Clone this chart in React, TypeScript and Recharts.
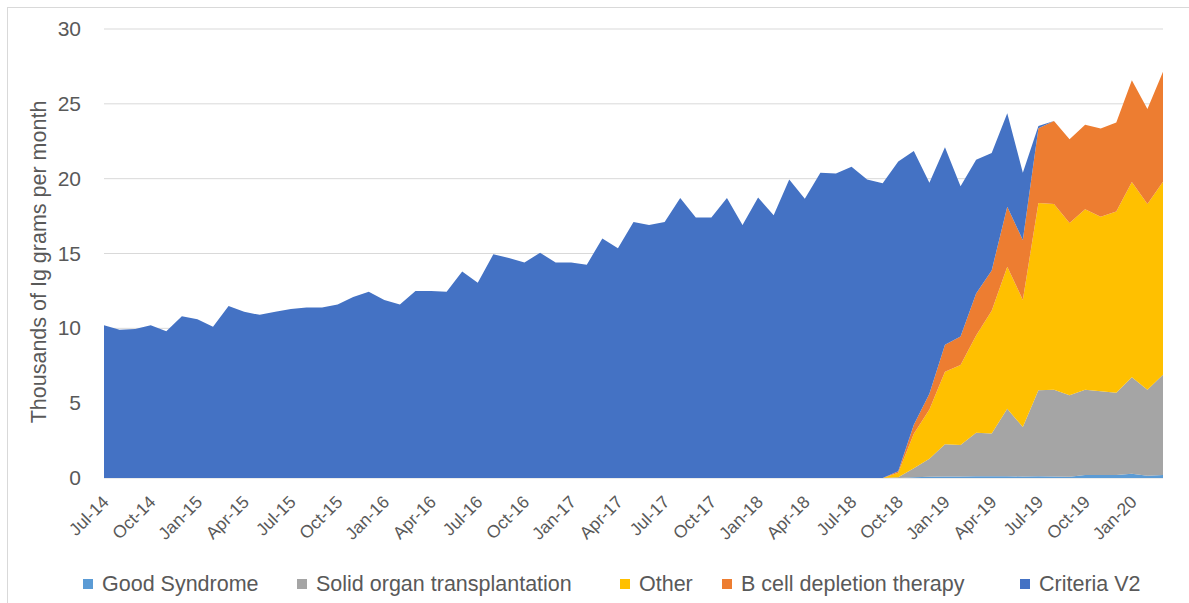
import { AreaChart, Area, XAxis, YAxis, CartesianGrid } from "recharts";

const months = [
  "Jul-14", "Aug-14", "Sep-14", "Oct-14", "Nov-14", "Dec-14",
  "Jan-15", "Feb-15", "Mar-15", "Apr-15", "May-15", "Jun-15", "Jul-15", "Aug-15", "Sep-15", "Oct-15", "Nov-15", "Dec-15",
  "Jan-16", "Feb-16", "Mar-16", "Apr-16", "May-16", "Jun-16", "Jul-16", "Aug-16", "Sep-16", "Oct-16", "Nov-16", "Dec-16",
  "Jan-17", "Feb-17", "Mar-17", "Apr-17", "May-17", "Jun-17", "Jul-17", "Aug-17", "Sep-17", "Oct-17", "Nov-17", "Dec-17",
  "Jan-18", "Feb-18", "Mar-18", "Apr-18", "May-18", "Jun-18", "Jul-18", "Aug-18", "Sep-18", "Oct-18", "Nov-18", "Dec-18",
  "Jan-19", "Feb-19", "Mar-19", "Apr-19", "May-19", "Jun-19", "Jul-19", "Aug-19", "Sep-19", "Oct-19", "Nov-19", "Dec-19",
  "Jan-20", "Feb-20", "Mar-20",
];

// thousands of grams
const goodSyndrome = [
  0, 0, 0, 0, 0, 0, 0, 0, 0, 0, 0, 0, 0, 0, 0, 0, 0, 0, 0, 0, 0, 0, 0, 0, 0, 0,
  0, 0, 0, 0, 0, 0, 0, 0, 0, 0, 0, 0, 0, 0, 0, 0, 0, 0, 0, 0, 0, 0, 0, 0, 0,
  0, 0.05, 0.08, 0.1, 0.1, 0.12, 0.12, 0.12, 0.1, 0.12, 0.1, 0.08, 0.2, 0.2, 0.2, 0.28, 0.15, 0.2,
];
const solidOrgan = [
  0, 0, 0, 0, 0, 0, 0, 0, 0, 0, 0, 0, 0, 0, 0, 0, 0, 0, 0, 0, 0, 0, 0, 0, 0, 0,
  0, 0, 0, 0, 0, 0, 0, 0, 0, 0, 0, 0, 0, 0, 0, 0, 0, 0, 0, 0, 0, 0, 0, 0, 0,
  0.05, 0.6, 1.2, 2.15, 2.1, 2.9, 2.85, 4.5, 3.3, 5.75, 5.8, 5.45, 5.7, 5.6, 5.5, 6.45, 5.75, 6.7,
];
const other = [
  0, 0, 0, 0, 0, 0, 0, 0, 0, 0, 0, 0, 0, 0, 0, 0, 0, 0, 0, 0, 0, 0, 0, 0, 0, 0,
  0, 0, 0, 0, 0, 0, 0, 0, 0, 0, 0, 0, 0, 0, 0, 0, 0, 0, 0, 0, 0, 0, 0, 0, 0,
  0.3, 2.3, 3.3, 4.85, 5.35, 6.5, 8.2, 9.5, 8.5, 12.5, 12.4, 11.5, 12.05, 11.65, 12.1, 13.05, 12.4, 12.9,
];
const bCell = [
  0, 0, 0, 0, 0, 0, 0, 0, 0, 0, 0, 0, 0, 0, 0, 0, 0, 0, 0, 0, 0, 0, 0, 0, 0, 0,
  0, 0, 0, 0, 0, 0, 0, 0, 0, 0, 0, 0, 0, 0, 0, 0, 0, 0, 0, 0, 0, 0, 0, 0, 0,
  0.1, 0.6, 1.05, 1.8, 1.9, 2.8, 2.7, 4.0, 4.0, 5.0, 5.55, 5.6, 5.65, 5.9, 5.95, 6.8, 6.35, 7.35,
];
const criteriaV2 = [
  10.2, 9.9, 9.95, 10.2, 9.8, 10.8, 10.6, 10.1, 11.5, 11.1, 10.9, 11.1, 11.3, 11.4, 11.4, 11.6, 12.1, 12.45,
  11.9, 11.6, 12.5, 12.5, 12.45, 13.8, 13.05, 14.95, 14.7, 14.4, 15.05, 14.4, 14.4, 14.25, 16.0, 15.35,
  17.1, 16.9, 17.1, 18.7, 17.4, 17.4, 18.7, 16.9, 18.75, 17.55, 19.95, 18.65, 20.4, 20.35, 20.8, 19.95, 19.7,
  20.7, 18.3, 14.1, 13.2, 10.05, 8.95, 7.85, 6.25, 4.5, 0.15, 0, 0, 0, 0, 0, 0, 0, 0,
];

const yTicks = [0, 5, 10, 15, 20, 25, 30];

const series = [
  { key: "good", name: "Good Syndrome", color: "#5B9BD5" },
  { key: "solid", name: "Solid organ transplantation", color: "#A5A5A5" },
  { key: "other", name: "Other", color: "#FFC000" },
  { key: "bcell", name: "B cell depletion therapy", color: "#ED7D31" },
  { key: "criteria", name: "Criteria V2", color: "#4472C4" },
];

const data = months.map((m, i) => ({
  month: m,
  good: goodSyndrome[i],
  solid: solidOrgan[i],
  other: other[i],
  bcell: bCell[i],
  criteria: criteriaV2[i],
}));

const FONT = "'Liberation Sans', Arial, sans-serif";
const TEXT = "#595959";

function XTick({ x, y, payload }: any) {
  const px = x + 6;
  const py = y + 17;
  return (
    <text
      x={px}
      y={py}
      transform={`rotate(-45, ${px}, ${py})`}
      textAnchor="end"
      fontSize={17.5}
      fill={TEXT}
      fontFamily={FONT}
    >
      {payload.value}
    </text>
  );
}

function YTick({ y, payload }: any) {
  return (
    <text x={81} y={y + 7} textAnchor="end" fontSize={21} fill={TEXT} fontFamily={FONT}>
      {payload.value}
    </text>
  );
}

const legendPos = [83, 297, 620, 722, 1020];

export default function App() {
  return (
    <div style={{ position: "fixed", left: 0, top: 0, width: 1189, height: 603, background: "#fff" }}>
      <div
        style={{
          position: "absolute",
          left: 7,
          top: 7,
          width: 1182,
          height: 596,
          borderLeft: "1px solid #D9D9D9",
          borderTop: "1px solid #D9D9D9",
        }}
      />
      <AreaChart
        width={1189}
        height={603}
        data={data}
        margin={{ top: 29, right: 26, left: 0, bottom: 0 }}
        style={{ position: "absolute", left: 0, top: 0 }}
      >
        <CartesianGrid vertical={false} stroke="#D9D9D9" strokeWidth={1} />
        <XAxis
          dataKey="month"
          interval={2}
          axisLine={false}
          tickLine={false}
          height={125}
          tick={<XTick />}
        />
        <YAxis
          domain={[0, 30]}
          ticks={yTicks}
          axisLine={false}
          tickLine={false}
          width={104}
          tick={<YTick />}
          label={{
            content: () => (
              <text
                x={46}
                y={262}
                transform="rotate(-90, 46, 262)"
                textAnchor="middle"
                fontSize={21.5}
                fill={TEXT}
                fontFamily={FONT}
              >
                Thousands of Ig grams per month
              </text>
            ),
          }}
        />
        {series.map((s) => (
          <Area
            key={s.key}
            type="linear"
            dataKey={s.key}
            name={s.name}
            stackId="1"
            fill={s.color}
            fillOpacity={1}
            stroke="none"
            isAnimationActive={false}
          />
        ))}
      </AreaChart>
      {series.map((s, i) => (
        <div
          key={s.key}
          style={{
            position: "absolute",
            left: legendPos[i],
            top: 571,
            height: 26,
            display: "flex",
            alignItems: "center",
            fontFamily: FONT,
            fontSize: 21.5,
            color: TEXT,
            whiteSpace: "nowrap",
          }}
        >
          <span style={{ display: "inline-block", width: 10, height: 10, background: s.color, marginRight: 9 }} />
          {s.name}
        </div>
      ))}
    </div>
  );
}
